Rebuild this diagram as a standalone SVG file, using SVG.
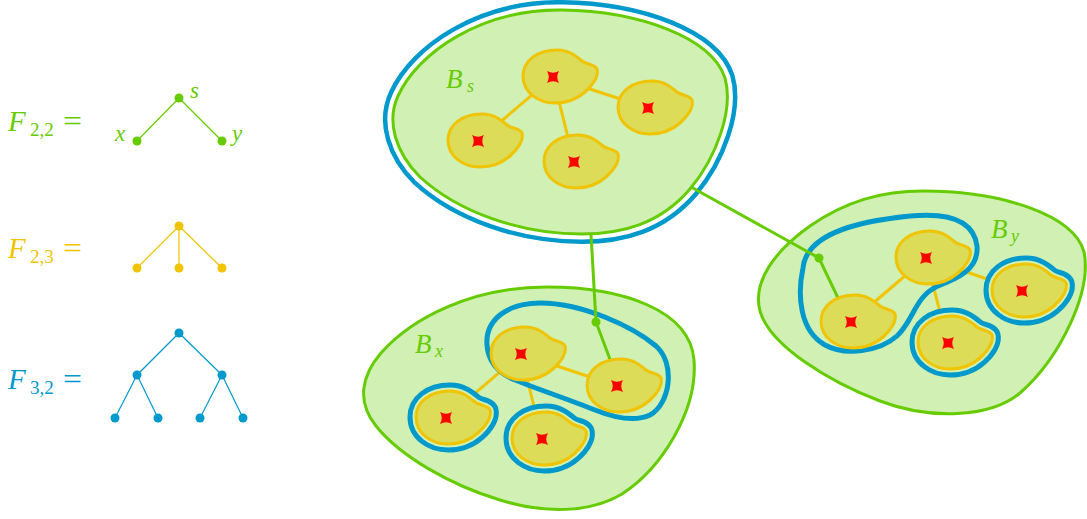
<svg xmlns="http://www.w3.org/2000/svg" xmlns:xlink="http://www.w3.org/1999/xlink" width="1087" height="519" viewBox="0 0 1087 519">
<style>
.math{font-family:"Liberation Serif","DejaVu Serif",serif;}
.it{font-style:italic;}
.gr{fill:#66cc00;}
.ye{fill:#f0c400;}
.bl{fill:#0099cc;}
.big{fill:#d0f0b4;stroke:#66cc00;stroke-width:3;}
.blob{fill:#dcdc58;stroke:#f0c400;stroke-width:3;}
.ring{fill:none;stroke:#0099cc;stroke-width:17;stroke-linejoin:round;}
.gap{fill:none;stroke:#d0f0b4;stroke-width:7;stroke-linejoin:round;}
.ylink{stroke:#f0c400;stroke-width:3;}
.glink{stroke:#66cc00;stroke-width:3;fill:none;}
.contour{fill:none;stroke:#0099cc;stroke-width:5;}
.star{fill:#ff0000;}
.outer{fill:none;stroke:#0099cc;stroke-width:20;}
.white{fill:none;stroke:#ffffff;stroke-width:11;}
.tg{stroke:#66cc00;stroke-width:1.2;}
.ty{stroke:#f0c400;stroke-width:1.2;}
.tb{stroke:#0099cc;stroke-width:1.2;}
</style>
<defs>
<path id="bp" d="M 44,-8 C 46,-1 40,8 32,15 C 24,22 14,26 2,26 C -14,26 -30,16 -30,-1 C -30,-16 -16,-27 4,-27 C 16,-27 23,-21 29,-16 C 34,-12 42,-13 44,-8 Z"/>
<path id="st" d="M -6,-6 Q 0,-2.5 6,-6 Q 2.5,0 6,6 Q 0,2.5 -6,6 Q -2.5,0 -6,-6 Z"/>
<path id="bsp" d="M 562,10 C 640,11 712,38 725,78 C 734,110 716,158 690,189 C 660,224 622,234 582,234 C 520,234 458,212 420,177 C 396,153 386,122 398,96 C 418,52 482,9 562,10 Z"/>
</defs>

<!-- Formulas -->
<g id="F22">
<text class="math it gr" x="8" y="131" font-size="29">F</text>
<text class="math gr" x="30" y="136" font-size="19">2,2</text>
<text class="math gr" x="63" y="131" font-size="29" textLength="19" lengthAdjust="spacingAndGlyphs">=</text>
<line class="tg" x1="179" y1="98" x2="137" y2="141"/><line class="tg" x1="179" y1="98" x2="222" y2="141"/>
<g class="gr"><circle cx="179" cy="98" r="4.5"/><circle cx="137" cy="141" r="4.5"/><circle cx="222" cy="141" r="4.5"/></g>
<text class="math it gr" x="190" y="98" font-size="23">s</text>
<text class="math it gr" x="115" y="141" font-size="23">x</text>
<text class="math it gr" x="232" y="141" font-size="23">y</text>
</g>
<g id="F23">
<text class="math it ye" x="8" y="258" font-size="29">F</text>
<text class="math ye" x="30" y="263" font-size="19">2,3</text>
<text class="math ye" x="63" y="258" font-size="29" textLength="19" lengthAdjust="spacingAndGlyphs">=</text>
<line class="ty" x1="179" y1="226" x2="137" y2="268"/><line class="ty" x1="179" y1="226" x2="179" y2="268"/><line class="ty" x1="179" y1="226" x2="222" y2="268"/>
<g class="ye"><circle cx="179" cy="226" r="4.5"/><circle cx="137" cy="268" r="4.5"/><circle cx="179" cy="268" r="4.5"/><circle cx="222" cy="268" r="4.5"/></g>
</g>
<g id="F32">
<text class="math it bl" x="8" y="389" font-size="29">F</text>
<text class="math bl" x="30" y="394" font-size="19">3,2</text>
<text class="math bl" x="63" y="389" font-size="29" textLength="19" lengthAdjust="spacingAndGlyphs">=</text>
<line class="tb" x1="179" y1="333" x2="137" y2="375"/><line class="tb" x1="179" y1="333" x2="222" y2="375"/><line class="tb" x1="137" y1="375" x2="115" y2="418"/><line class="tb" x1="137" y1="375" x2="158" y2="418"/><line class="tb" x1="222" y1="375" x2="200" y2="418"/><line class="tb" x1="222" y1="375" x2="243" y2="418"/>
<g class="bl"><circle cx="179" cy="333" r="4.5"/><circle cx="137" cy="375" r="4.5"/><circle cx="222" cy="375" r="4.5"/><circle cx="115" cy="418" r="4.5"/><circle cx="158" cy="418" r="4.5"/><circle cx="200" cy="418" r="4.5"/><circle cx="243" cy="418" r="4.5"/></g>
</g>

<!-- Bs -->
<g id="Bs">
<use xlink:href="#bsp" class="outer"/>
<use xlink:href="#bsp" class="white"/>
<use xlink:href="#bsp" class="big"/>
<g class="ylink"><line x1="553" y1="77" x2="478" y2="141"/><line x1="553" y1="77" x2="648" y2="108"/><line x1="553" y1="77" x2="574" y2="162"/></g>
<use xlink:href="#bp" class="blob" transform="translate(553,77)"/>
<use xlink:href="#bp" class="blob" transform="translate(648,108)"/>
<use xlink:href="#bp" class="blob" transform="translate(478,141)"/>
<use xlink:href="#bp" class="blob" transform="translate(574,162)"/>
<g class="star"><use xlink:href="#st" x="553" y="77"/><use xlink:href="#st" x="648" y="108"/><use xlink:href="#st" x="478" y="141"/><use xlink:href="#st" x="574" y="162"/></g>
<text class="math it gr" x="446" y="88" font-size="27">B</text>
<text class="math it gr" x="467" y="92" font-size="18">s</text>
</g>

<!-- Bx -->
<g id="Bx">
<path class="big" d="M 547,287 C 622,287 690,310 694,360 C 698,410 662,468 622,494 C 590,513 545,514 500,500 C 450,485 400,456 376,426 C 356,401 362,375 381,353 C 412,318 472,287 547,287 Z"/>
<g class="ylink"><line x1="521" y1="354" x2="446" y2="418"/><line x1="521" y1="354" x2="617" y2="386"/><line x1="521" y1="354" x2="542" y2="439"/></g>
<path class="contour" d="M 487,345 C 485,318 510,303 540,303 C 582,303 632,326 656,346 C 676,364 670,404 650,415 C 635,422 615,418 595,410 C 570,400 540,390 515,380 C 496,372 488,360 487,345 Z"/>
<use xlink:href="#bp" class="ring" transform="translate(446,418)"/>
<use xlink:href="#bp" class="gap" transform="translate(446,418)"/>
<use xlink:href="#bp" class="ring" transform="translate(542,439)"/>
<use xlink:href="#bp" class="gap" transform="translate(542,439)"/>
<text class="math it gr" x="415" y="353" font-size="27">B</text>
<text class="math it gr" x="435" y="357" font-size="18">x</text>
</g>

<!-- By -->
<g id="By">
<path class="big" d="M 923,191 C 1002,191 1074,215 1084,252 C 1092,292 1060,358 1020,393 C 990,418 930,420 880,401 C 830,382 770,346 760,311 C 752,281 776,250 810,226 C 846,201 882,191 923,191 Z"/>
<g class="ylink"><line x1="926" y1="258" x2="851" y2="322"/><line x1="926" y1="258" x2="1022" y2="291"/><line x1="926" y1="258" x2="948" y2="343"/></g>
<path class="contour" d="M 803,268 C 806,236 850,222 910,216 C 952,212 974,222 977,246 C 979,270 956,279 938,286 C 915,296 914,320 897,336 C 879,352 845,356 825,345 C 800,331 797,296 803,268 Z"/>
<use xlink:href="#bp" class="ring" transform="translate(1022,291)"/>
<use xlink:href="#bp" class="gap" transform="translate(1022,291)"/>
<use xlink:href="#bp" class="ring" transform="translate(948,343)"/>
<use xlink:href="#bp" class="gap" transform="translate(948,343)"/>
<text class="math it gr" x="991" y="238" font-size="27">B</text>
<text class="math it gr" x="1011" y="242" font-size="18">y</text>
</g>

<!-- connectors between clusters -->
<g id="connectors">
<polyline class="glink" points="591,234 596,322 611,362"/>
<polyline class="glink" points="691,187 819,258 838,298"/>
<circle cx="596" cy="322" r="4.5" fill="#66cc00"/>
<circle cx="819" cy="258" r="4.5" fill="#66cc00"/>
</g>

<!-- blobs of Bx and By on top -->
<g id="Bx-blobs">
<use xlink:href="#bp" class="blob" transform="translate(521,354)"/>
<use xlink:href="#bp" class="blob" transform="translate(617,386)"/>
<use xlink:href="#bp" class="blob" transform="translate(446,418)"/>
<use xlink:href="#bp" class="blob" transform="translate(542,439)"/>
<g class="star"><use xlink:href="#st" x="521" y="354"/><use xlink:href="#st" x="617" y="386"/><use xlink:href="#st" x="446" y="418"/><use xlink:href="#st" x="542" y="439"/></g>
</g>
<g id="By-blobs">
<use xlink:href="#bp" class="blob" transform="translate(926,258)"/>
<use xlink:href="#bp" class="blob" transform="translate(851,322)"/>
<use xlink:href="#bp" class="blob" transform="translate(1022,291)"/>
<use xlink:href="#bp" class="blob" transform="translate(948,343)"/>
<g class="star"><use xlink:href="#st" x="926" y="258"/><use xlink:href="#st" x="851" y="322"/><use xlink:href="#st" x="1022" y="291"/><use xlink:href="#st" x="948" y="343"/></g>
</g>
</svg>
